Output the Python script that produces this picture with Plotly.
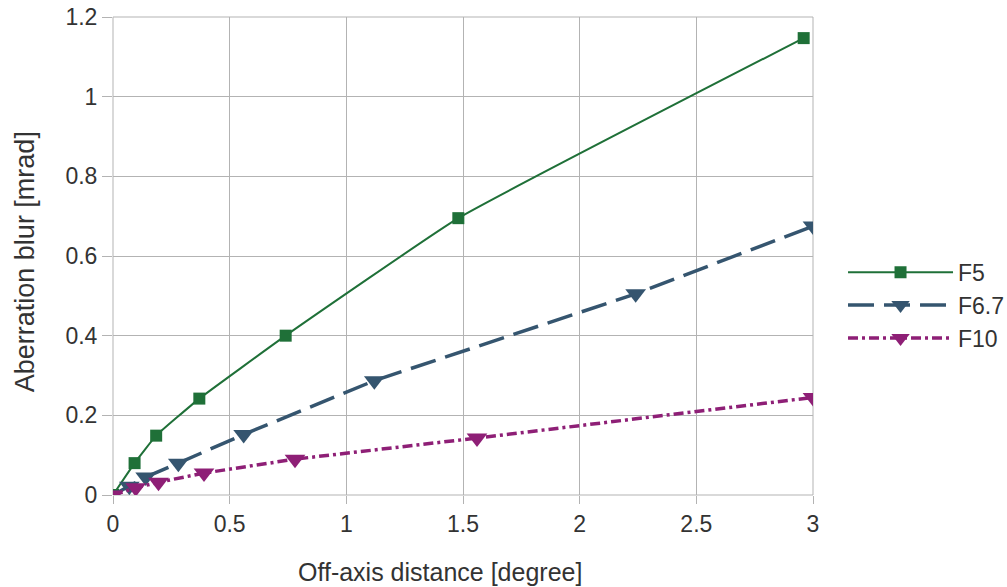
import plotly.graph_objects as go

f5_x = [0, 0.0925, 0.185, 0.37, 0.74, 1.48, 2.96]
f5_y = [0.0, 0.080, 0.149, 0.242, 0.400, 0.695, 1.147]

f67_x = [0, 0.07, 0.14, 0.28, 0.56, 1.12, 2.24, 3.0]
f67_y = [0.0, 0.022, 0.045, 0.080, 0.152, 0.287, 0.505, 0.675]

f10_x = [0, 0.0975, 0.195, 0.39, 0.78, 1.56, 3.0]
f10_y = [0.0, 0.018, 0.032, 0.055, 0.090, 0.143, 0.245]

x_ticks = [0, 0.5, 1, 1.5, 2, 2.5, 3]
x_labels = ["0", "0.5", "1", "1.5", "2", "2.5", "3"]
y_ticks = [0, 0.2, 0.4, 0.6, 0.8, 1.0, 1.2]
y_labels = ["0", "0.2", "0.4", "0.6", "0.8", "1", "1.2"]

x_title = "Off-axis distance [degree]"
y_title = "Aberration blur [mrad]"

FONT = "Liberation Sans, Arial, sans-serif"
GRID = "#b3b3b3"
TXT = "#333333"

fig = go.Figure()
fig.add_trace(go.Scatter(
    x=f5_x, y=f5_y, name="F5", mode="lines+markers",
    line=dict(color="#1f7038", width=2, shape="spline", smoothing=0.35),
    marker=dict(symbol="square", size=12, color="#1f7038"),
))
fig.add_trace(go.Scatter(
    x=f67_x, y=f67_y, name="F6.7", mode="lines+markers",
    line=dict(color="#35556f", width=3.5, dash="26px,10px"),
    marker=dict(symbol="triangle-down", size=18, color="#35556f"),
))
fig.add_trace(go.Scatter(
    x=f10_x, y=f10_y, name="F10", mode="lines+markers",
    line=dict(color="#8e1f76", width=3.5, dash="10px,4px,3px,4px"),
    marker=dict(symbol="triangle-down", size=18, color="#8e1f76"),
))

fig.update_layout(
    width=1007, height=587,
    margin=dict(l=113, r=194, t=17, b=92, autoexpand=False),
    paper_bgcolor="white", plot_bgcolor="white",
    font=dict(family=FONT, size=23, color=TXT),
    legend=dict(x=1.0429, xanchor="left", y=0.397, yanchor="middle",
                itemwidth=105, font=dict(size=23, color=TXT),
                tracegroupgap=0, borderwidth=0),
    xaxis=dict(
        range=[0, 3], tickmode="array", tickvals=x_ticks, ticktext=x_labels,
        showgrid=True, gridcolor=GRID, gridwidth=1,
        ticks="outside", ticklen=8, tickcolor=GRID,
        showline=False, zeroline=False, automargin=False,
        ticklabeloverflow="allow",
        tickfont=dict(size=23, color=TXT),
    ),
    yaxis=dict(
        range=[0, 1.2], tickmode="array", tickvals=y_ticks, ticktext=y_labels,
        showgrid=True, gridcolor=GRID, gridwidth=1,
        ticks="outside", ticklen=10, tickcolor=GRID,
        showline=False, zeroline=False, automargin=False,
        ticklabeloverflow="allow",
        tickfont=dict(size=23, color=TXT),
    ),
    annotations=[
        dict(text=x_title, xref="paper", yref="paper", x=0.467, y=-0.161,
             xanchor="center", yanchor="middle", showarrow=False,
             font=dict(size=25, color=TXT)),
        dict(text=y_title, xref="paper", yref="paper", x=-0.1257, y=0.487,
             xanchor="center", yanchor="middle", showarrow=False, textangle=-90,
             font=dict(size=27, color=TXT)),
    ],
)
fig.add_shape(type="rect", xref="paper", yref="paper", x0=0, y0=0, x1=1, y1=1,
              line=dict(color=GRID, width=1), layer="below")

fig.write_html(
    "out.html",
    config={"displayModeBar": False},
    post_script="document.body.style.margin='0';document.body.style.overflow='hidden';",
)
